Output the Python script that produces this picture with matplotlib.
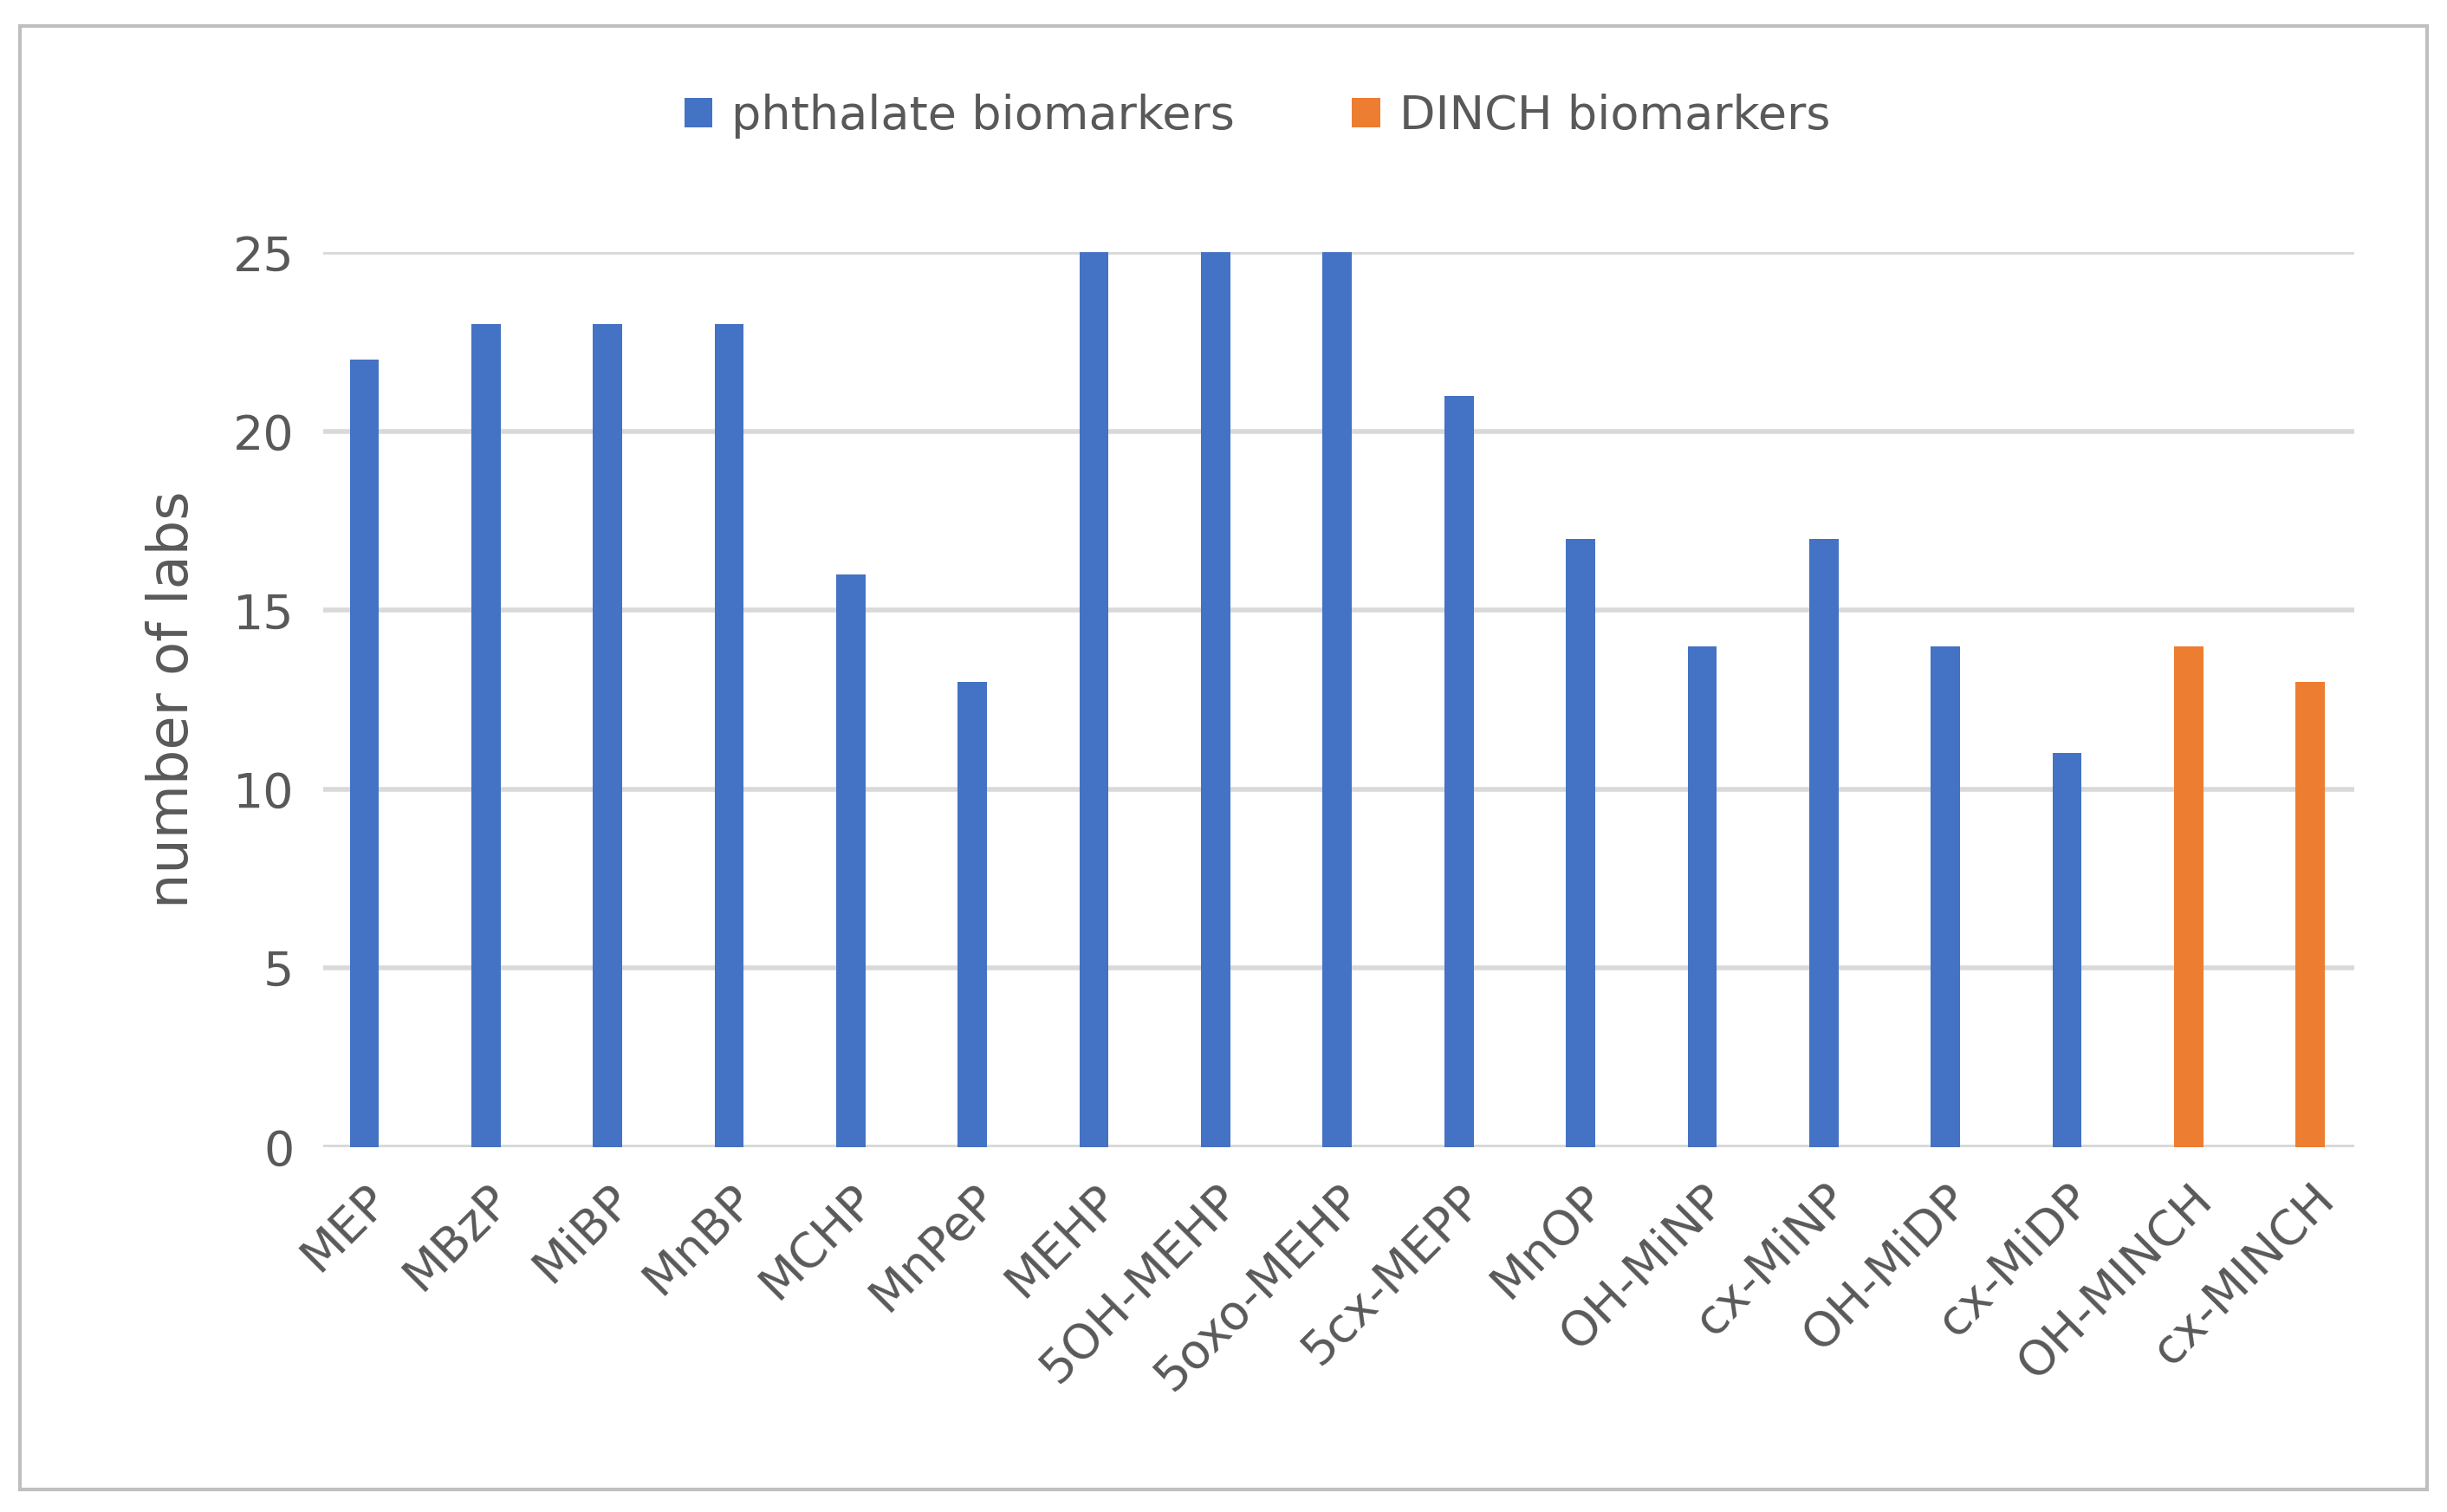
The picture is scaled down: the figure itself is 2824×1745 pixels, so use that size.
import matplotlib.pyplot as plt
import numpy as np
from matplotlib.patches import Rectangle

phthalate_labels = ['MEP', 'MBzP', 'MiBP', 'MnBP', 'MCHP', 'MnPeP', 'MEHP', '5OH-MEHP',
                    '5oxo-MEHP', '5cx-MEPP', 'MnOP', 'OH-MiNP', 'cx-MiNP', 'OH-MiDP', 'cx-MiDP']
phthalate_values = [22, 23, 23, 23, 16, 13, 25, 25, 25, 21, 17, 14, 17, 14, 11]
dinch_labels = ['OH-MINCH', 'cx-MINCH']
dinch_values = [14, 13]

grey = '#595959'
fig = plt.figure(figsize=(14.12, 8.725), dpi=200)
ax = fig.add_axes([0.132, 0.2415, 0.83, 0.5915])

x1 = np.arange(len(phthalate_labels))
x2 = np.arange(len(phthalate_labels), len(phthalate_labels) + len(dinch_labels))
ax.bar(x1, phthalate_values, width=0.24, color='#4472C4', label='phthalate biomarkers', zorder=3)
ax.bar(x2, dinch_values, width=0.24, color='#ED7D31', label='DINCH biomarkers', zorder=3)

ax.set_ylim(0, 25)
ax.set_xlim(-0.34, len(x1) + len(x2) - 0.64)
ax.set_yticks(range(0, 26, 5))
ax.grid(axis='y', color='#D9D9D9', linewidth=2, zorder=0)
for s in ax.spines.values():
    s.set_visible(False)
ax.axhline(0, color='#D9D9D9', linewidth=2, zorder=1)
ax.tick_params(length=0, labelsize=20, colors=grey, pad=12)
ax.set_xticks(np.concatenate([x1, x2]))
ax.set_xticklabels(phthalate_labels + dinch_labels, rotation=45, ha='right',
                   rotation_mode='anchor', fontsize=20)
ax.set_ylabel('number of labs', fontsize=23, color=grey, labelpad=14)

leg = ax.legend(loc='lower center', bbox_to_anchor=(0.46, 1.08), ncol=2, frameon=False,
                fontsize=19.5, handlelength=0.6, handleheight=0.6, columnspacing=2.5,
                handletextpad=0.4)
for t in leg.get_texts():
    t.set_color(grey)

fig.patches.append(Rectangle((0.008, 0.015), 0.984, 0.968, transform=fig.transFigure,
                             fill=False, edgecolor='#BFBFBF', linewidth=1.5))
fig.savefig('out.png', dpi=200)
